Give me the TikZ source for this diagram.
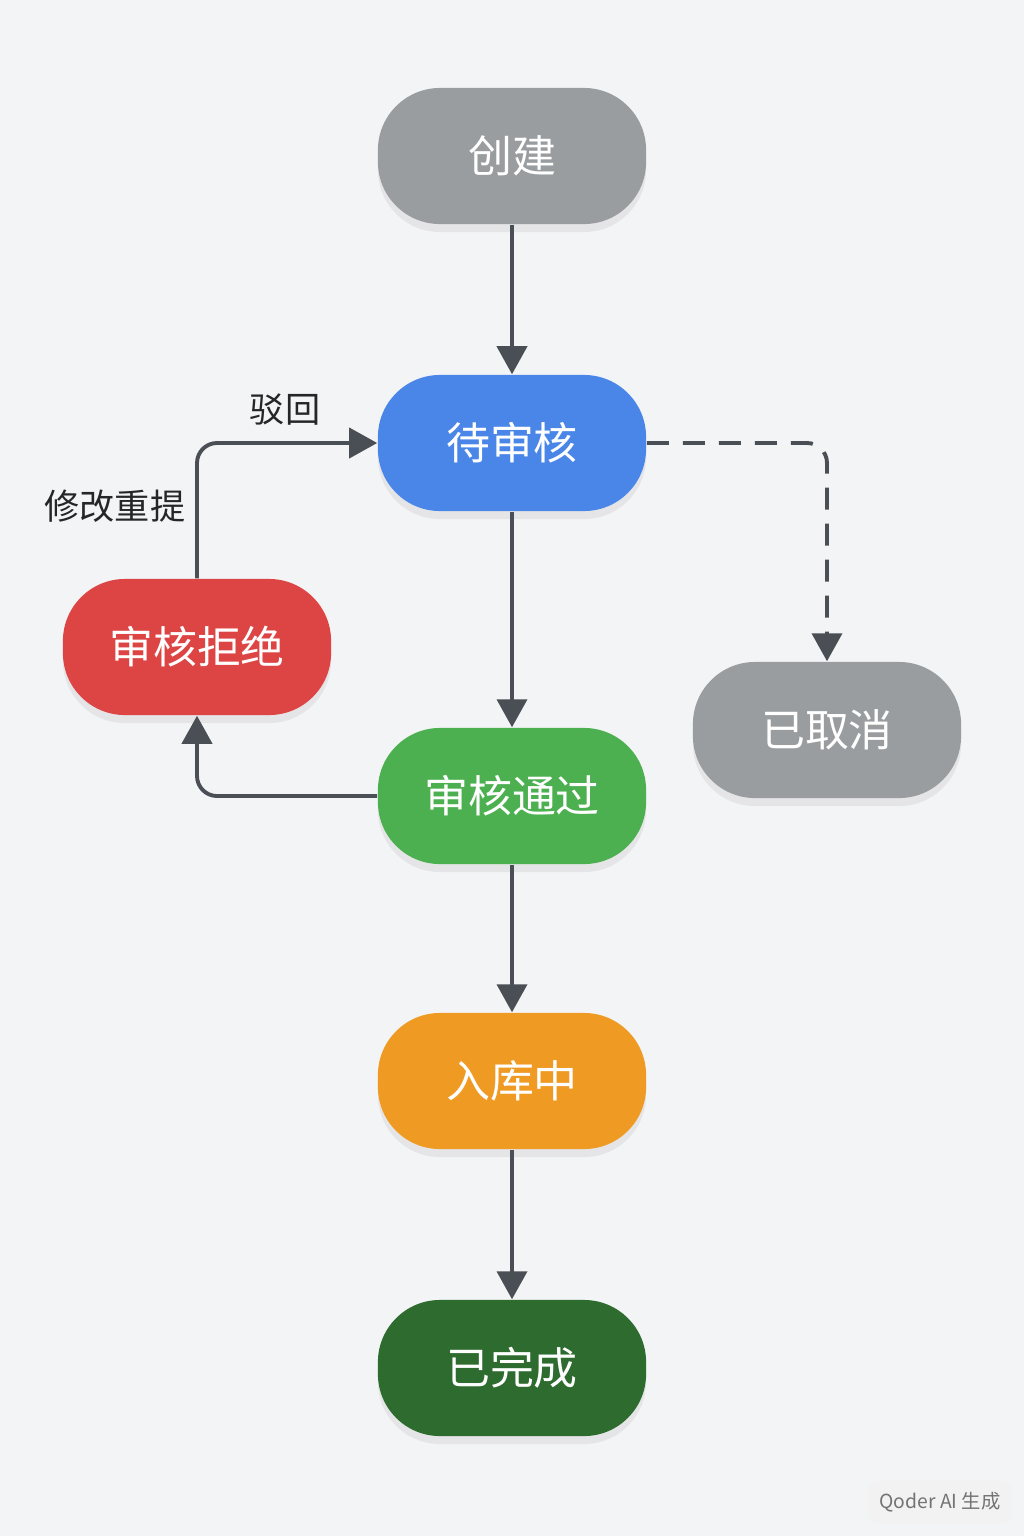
\documentclass[tikz,border=0pt]{standalone}
\usepackage{fontspec}
\setmainfont{Noto Sans CJK SC}
\usetikzlibrary{positioning, arrows.meta, shadows}
\definecolor{bgc}{HTML}{F3F4F6}
\definecolor{grayc}{HTML}{9A9D9F}
\definecolor{bluec}{HTML}{4A86E8}
\definecolor{redc}{HTML}{DD4444}
\definecolor{greenc}{HTML}{4CAF50}
\definecolor{orangec}{HTML}{EF9A22}
\definecolor{dgreenc}{HTML}{2E6B2E}
\definecolor{linec}{HTML}{4A4F55}
\begin{document}
\begin{tikzpicture}[x=0.01cm, y=-0.01cm]
\tikzstyle{state}=[rounded corners=0.62cm, minimum width=2.68cm, minimum height=1.36cm, text=white, font=\fontsize{12.5}{14}\selectfont, drop shadow={opacity=0.12, shadow xshift=0pt, shadow yshift=-0.08cm}]
\tikzstyle{flow}=[draw=linec, line width=1.1pt, -{Triangle[length=0.28cm, width=0.3cm]}, rounded corners=0.2cm]
\tikzstyle{lbl}=[text=black!85, font=\fontsize{10}{12}\selectfont]

\fill[bgc] (0,0) rectangle (1024,1536);

\node (create) [state, fill=grayc] at (512,156) {创建};
\node (pending) [state, fill=bluec] at (512,443) {待审核};
\node (reject) [state, fill=redc] at (197,647) {审核拒绝};
\node (cancel) [state, fill=grayc] at (827,730) {已取消};
\node (pass) [state, fill=greenc] at (512,796) {审核通过};
\node (stock) [state, fill=orangec] at (512,1081) {入库中};
\node (done) [state, fill=dgreenc] at (512,1368) {已完成};

\draw [flow] (create) -- (pending);
\draw [flow] (pending) -- (pass);
\draw [flow] (pass) -- (stock);
\draw [flow] (stock) -- (done);
\draw [flow, dashed, dash pattern=on 0.22cm off 0.14cm] (pending.east) -| (cancel.north);
\draw [flow] (pass.west) -| (reject.south);
\draw [flow] (reject.north) |- (pending.west);

\node (lblback) [lbl] at (285,410) {驳回};
\node (lblresub) [lbl] at (115,506) {修改重提};

\node (mark) [fill=black!5, rounded corners=0.12cm, text=black!55, font=\fontsize{5.5}{6}\selectfont, minimum width=1.26cm, minimum height=0.32cm] at (940,1502) {Qoder AI 生成};
\end{tikzpicture}
\end{document}
